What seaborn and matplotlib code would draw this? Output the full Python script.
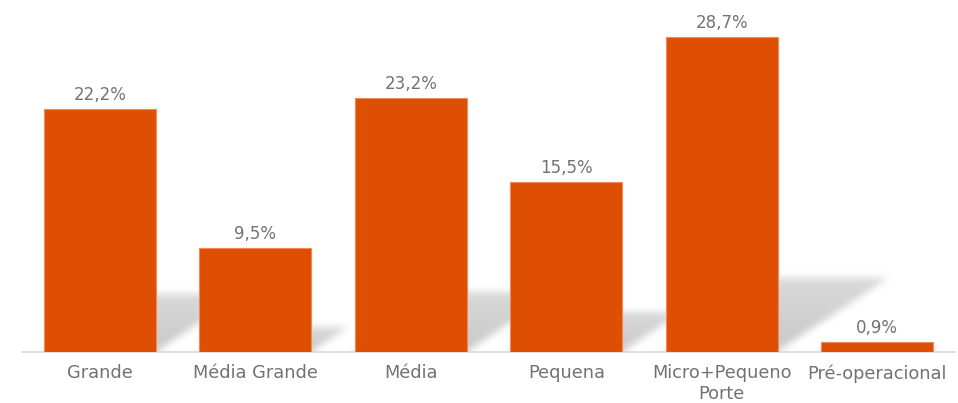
import numpy as np
import pandas as pd
import matplotlib
matplotlib.use("Agg")
import matplotlib.pyplot as plt
import seaborn as sns

# Porte das empresas - participação (%)
categorias = ["Grande", "Média Grande", "Média", "Pequena", "Micro+Pequeno\nPorte", "Pré-operacional"]
valores = [22.2, 9.5, 23.2, 15.5, 28.7, 0.9]
rotulos = ["22,2%", "9,5%", "23,2%", "15,5%", "28,7%", "0,9%"]

df = pd.DataFrame({"categoria": categorias, "valor": valores})

sns.set_theme(style="white")
plt.rcParams['font.family'] = ['DejaVu Sans']

cor_barra = "#DE4F03"
cor_texto = "#727272"
cor_eixo = "#D9D9D9"

fig = plt.figure(figsize=(9.58, 4.03), dpi=100)
ax = fig.add_axes([22 / 958, 51 / 403, 933 / 958, 329 / 403])

ymax = 30
ax.set_xlim(-0.5, 5.5)
ax.set_ylim(0, ymax)

largura = 0.72


def box_blur(a, r, axis):
    # simple moving average along one axis
    pad = [(0, 0), (0, 0)]
    pad[axis] = (r, r)
    b = np.pad(a, pad, mode="edge")
    c = np.cumsum(b, axis=axis)
    c = np.insert(c, 0, 0, axis=axis)
    n = 2 * r + 1
    if axis == 0:
        return (c[n:, :] - c[:-n, :]) / n
    return (c[:, n:] - c[:, :-n]) / n


# sombra projetada das barras (paralelogramo inclinado e desfocado)
W, H = 933, 329
xs = np.linspace(-0.5, 5.5, W)
ys = np.linspace(0, ymax, H)
X, Y = np.meshgrid(xs, ys)
mask = np.zeros((H, W))
for i, v in enumerate(valores):
    hs = v * 0.235
    shift = 1.5 * hs * (H / ymax) / (W / 6)
    x0, x1 = i - largura / 2, i + largura / 2
    frac = np.clip(Y / hs, 0, None)
    xx = X - shift * frac
    inside = (Y <= hs) & (xx >= x0) & (xx <= x1)
    mask = np.maximum(mask, inside * (1 - 0.3 * np.clip(frac, 0, 1)))
for _ in range(3):
    mask = box_blur(mask, 3, 0)
    mask = box_blur(mask, 3, 1)
rgba = np.zeros((H, W, 4))
rgba[..., :3] = 0.75
rgba[..., 3] = mask * 0.85
ax.imshow(rgba, extent=(-0.5, 5.5, 0, ymax), origin="lower", aspect="auto",
          interpolation="bilinear", zorder=1)

sns.barplot(data=df, x="categoria", y="valor", color=cor_barra, saturation=1,
            width=largura, edgecolor="#F08A5A", linewidth=0.8, ax=ax, zorder=3)
for p in ax.patches:
    p.set_zorder(3)

for i, (v, t) in enumerate(zip(valores, rotulos)):
    ax.text(i, v + 0.45, t, ha="center", va="bottom", fontsize=12, color=cor_texto, zorder=4)

ax.set_xlim(-0.5, 5.5)
ax.set_ylim(0, ymax)
ax.set_xlabel("")
ax.set_ylabel("")
ax.set_yticks([])
for s in ["top", "right", "left"]:
    ax.spines[s].set_visible(False)
ax.spines["bottom"].set_color(cor_eixo)
ax.spines["bottom"].set_linewidth(1.2)

ax.set_xticks(range(len(categorias)))
ax.set_xticklabels(categorias, fontsize=12.8, color=cor_texto, linespacing=1.2)
ax.tick_params(axis="x", length=0, pad=9)
ax.set_xticks(np.arange(-0.5, 6.0, 1.0), minor=True)
ax.tick_params(axis="x", which="minor", length=6, color=cor_eixo, width=1.2)

fig.savefig("out.png", dpi=100)
